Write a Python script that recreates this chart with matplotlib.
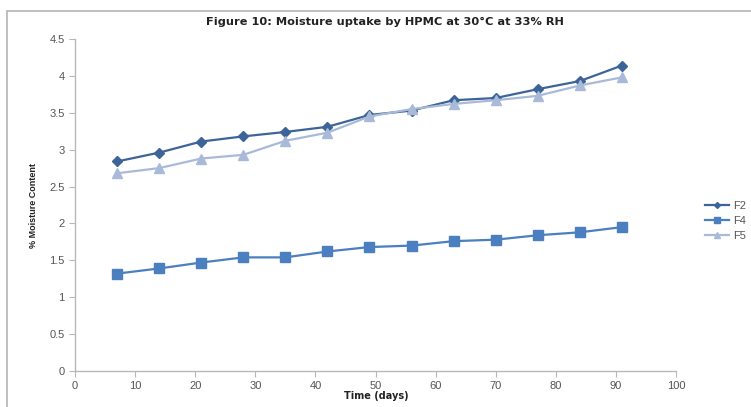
import matplotlib
matplotlib.use("Agg")
import matplotlib.pyplot as plt
from matplotlib.patches import Rectangle

# data
days = [7, 14, 21, 28, 35, 42, 49, 56, 63, 70, 77, 84, 91]
f2 = [2.84, 2.96, 3.11, 3.18, 3.24, 3.31, 3.47, 3.53, 3.67, 3.70, 3.82, 3.93, 4.14]
f4 = [1.32, 1.39, 1.47, 1.54, 1.54, 1.62, 1.68, 1.70, 1.76, 1.78, 1.84, 1.88, 1.95]
f5 = [2.68, 2.75, 2.88, 2.93, 3.12, 3.23, 3.45, 3.55, 3.62, 3.67, 3.73, 3.87, 3.98]
xticks = list(range(0, 101, 10))
yticks = [0, 0.5, 1, 1.5, 2, 2.5, 3, 3.5, 4, 4.5]
ytick_labels = ["0", "0.5", "1", "1.5", "2", "2.5", "3", "3.5", "4", "4.5"]

plt.rcParams['font.family'] = ['Liberation Sans', 'DejaVu Sans']

fig = plt.figure(figsize=(7.51, 4.07), dpi=100)
ax = fig.add_axes([75/751, 1-371/407, 601/751, 332/407])

# outer chart frame
fig.patches.append(Rectangle((7/751, -0.05), 1.0, 1-11/407+0.05,
                             transform=fig.transFigure, fill=False,
                             edgecolor="#b4b4b4", linewidth=1.2))

ax.plot(days, f2, color="#3d6499", marker="D", markersize=5, linewidth=1.6, label="F2")
ax.plot(days, f4, color="#4b7fc0", marker="s", markersize=7, linewidth=1.6, label="F4")
ax.plot(days, f5, color="#a9bad8", marker="^", markersize=7.5, linewidth=1.6, label="F5")

ax.set_xlim(0, 100)
ax.set_ylim(0, 4.5)
ax.set_xticks(xticks)
ax.set_yticks(yticks)
ax.set_yticklabels(ytick_labels)

for s in ["top", "right"]:
    ax.spines[s].set_visible(False)
for s in ["left", "bottom"]:
    ax.spines[s].set_color("#b8b8b8")
    ax.spines[s].set_linewidth(1.0)
ax.tick_params(colors="#b8b8b8", labelcolor="#555555", labelsize=8, length=4)

fig.text(385/751, 1-22/407, "Figure 10: Moisture uptake by HPMC at 30\u00b0C at 33% RH",
         ha="center", va="center", fontsize=8.2, fontweight="bold", color="#222222",
         family=['DejaVu Sans'])
fig.text(376/751, 1-396/407, "Time (days)", ha="center", va="center",
         fontsize=7, fontweight="bold", color="#222222", family=['DejaVu Sans'])
fig.text(34/751, 1-205/407, "% Moisture Content", ha="center", va="center",
         rotation=90, fontsize=6.5, fontweight="bold", color="#222222",
         family=['Liberation Sans Narrow', 'Liberation Sans', 'DejaVu Sans'])

leg = ax.legend(loc="center left", bbox_to_anchor=(695/751, 1-221/407),
                bbox_transform=fig.transFigure, frameon=False, fontsize=8,
                handlelength=2.2, handletextpad=0.3, labelspacing=0.45,
                markerscale=0.6)
for t in leg.get_texts():
    t.set_color("#555555")

fig.savefig("out.png", dpi=100)
